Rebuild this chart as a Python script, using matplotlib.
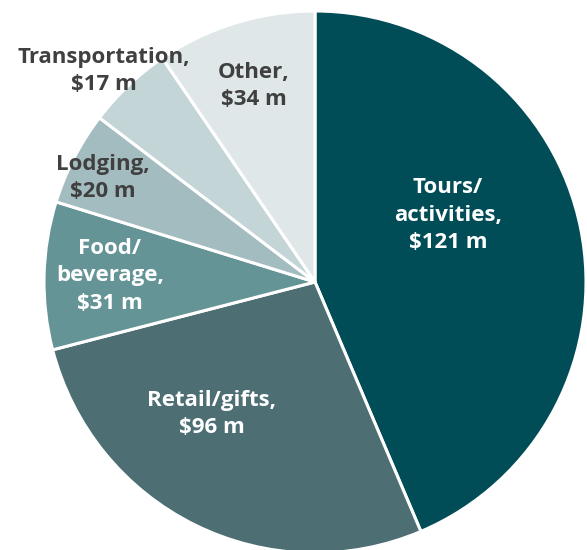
import matplotlib.pyplot as plt

# spending categories (millions of dollars)
labels = ['Tours/\nactivities,\n$121 m', 'Retail/gifts,\n$96 m', 'Food/\nbeverage,\n$31 m',
          'Lodging,\n$20 m', 'Transportation,\n$17 m', 'Other,\n$34 m']
wedge_deg = [157, 98.5, 31.7, 20.1, 18.4, 34.3]
colors = ['#004d57', '#4d6e73', '#659497', '#a3bcbf', '#c3d5d6', '#dfe7e8']
text_colors = ['white', 'white', 'white', '#404040', '#404040', '#404040']
# label centre offsets from pie centre, in pixels
label_dx = [133, -103, -205, -212, -211, -61]
label_dy = [67, -132, 6, 104, 211, 196]

W, H = 587, 550
cx, cy, r = 315, 268, 271

fig = plt.figure(figsize=(W / 100, H / 100), dpi=100)
ax = fig.add_axes([0, 0, 1, 1])
ax.pie(wedge_deg, colors=colors, startangle=90, counterclock=False,
       center=(cx, cy), radius=r, frame=True,
       wedgeprops=dict(edgecolor='white', linewidth=2.2))
ax.set_xlim(0, W)
ax.set_ylim(0, H)
ax.set_aspect('equal')
ax.axis('off')

for lab, dx, dy, tc in zip(labels, label_dx, label_dy, text_colors):
    ax.text(cx + dx, cy + dy, lab, ha='center', va='center', color=tc,
            fontsize=16, fontweight='bold', family='Open Sans', linespacing=1.38)

fig.savefig('out.png', dpi=100)
